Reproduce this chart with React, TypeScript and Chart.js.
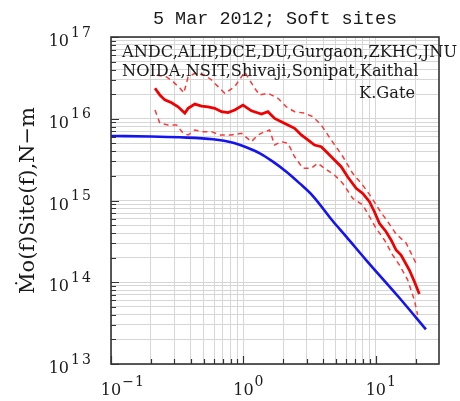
import React, { useEffect, useRef } from "react";
import { Chart, registerables } from "chart.js";

Chart.register(...registerables);

// ---- texts ----
const titleText = "5 Mar 2012; Soft sites";
const yAxisTitle = "Ṁo(f)Site(f),N−m";
const stationLines = [
  "ANDC,ALIP,DCE,DU,Gurgaon,ZKHC,JNU",
  "NOIDA,NSIT,Shivaji,Sonipat,Kaithal",
  "K.Gate",
];
const xTickExponents = [-1, 0, 1];
const yTickExponents = [13, 14, 15, 16, 17];

// ---- axis ranges ----
const xMin = 0.1;
const xMax = 30;
const yMin = 1e13;
const yMax = 1e17;

// ---- source spectrum (blue) ----
const sourceFreq = [0.1, 0.2, 0.331, 0.59, 0.835, 1.05, 1.33, 1.67, 2.11, 2.66, 3.35, 4.73, 6.0, 8.45, 15.1, 23.9];
const sourceVals = [6.15e15, 6.07e15, 5.93e15, 5.61e15, 5.09e15, 4.48e15, 3.78e15, 2.99e15, 2.25e15, 1.62e15, 1.135e15, 5.61e14, 3.59e14, 1.87e14, 6.42e13, 2.65e13];

// ---- mean site spectrum (red solid) ----
const meanFreq = [0.215, 0.234, 0.255, 0.287, 0.321, 0.361, 0.382, 0.43, 0.483, 0.541, 0.608, 0.683, 0.766, 0.86, 0.993, 1.149, 1.367, 1.532, 1.721, 1.934, 2.168, 2.436, 2.736, 3.068, 3.446, 3.871, 4.34, 4.875, 5.476, 6.141, 7.104, 7.968, 8.951, 9.759, 10.64, 11.96, 13.04, 14.22, 15.51, 17.92, 19.54, 21.31];
const meanVals = [2.36e16, 1.95e16, 1.7e16, 1.57e16, 1.4e16, 1.17e16, 1.34e16, 1.51e16, 1.43e16, 1.4e16, 1.34e16, 1.22e16, 1.19e16, 1.28e16, 1.47e16, 1.25e16, 1.14e16, 1.22e16, 1.01e16, 9.2e15, 8.39e15, 7.64e15, 6.33e15, 5.5e15, 4.77e15, 4.55e15, 3.78e15, 3.13e15, 2.59e15, 1.94e15, 1.41e15, 1.22e15, 9.67e14, 7.29e14, 5.26e14, 4.15e14, 3.29e14, 2.48e14, 2.15e14, 1.41e14, 1.02e14, 7.18e13];

// ---- upper bound (red dashed) ----
const upperFreq = [0.222, 0.263, 0.295, 0.331, 0.355, 0.382, 0.43, 0.511, 0.574, 0.644, 0.723, 0.86, 1.023, 1.217, 1.327, 1.532, 1.823, 2.109, 2.436, 2.897, 3.346, 3.871, 4.605, 5.602, 6.663, 8.066, 9.218, 10.64, 12.29, 14.22, 16.92, 20.5];
const upperVals = [3.43e16, 3.24e16, 2.82e16, 2.38e16, 2.07e16, 3.24e16, 3.6e16, 3.43e16, 2.98e16, 2.47e16, 2.05e16, 2.47e16, 3.73e16, 2.36e16, 1.95e16, 2.05e16, 1.78e16, 1.4e16, 1.22e16, 1.17e16, 1.06e16, 8.39e15, 5.5e15, 3.5e15, 2.17e15, 1.5e15, 1.11e15, 7.65e14, 5.51e14, 3.89e14, 3.02e14, 1.6e14];

// ---- lower bound (red dashed) ----
const lowerFreq = [0.215, 0.234, 0.27, 0.313, 0.351, 0.382, 0.43, 0.496, 0.574, 0.663, 0.812, 0.966, 1.149, 1.288, 1.447, 1.578, 1.721, 1.934, 2.168, 2.436, 2.813, 3.254, 3.649, 4.1, 4.875, 5.632, 6.697, 7.968, 8.951, 10.05, 11.61, 13.41, 15.06, 17.39, 19.54, 20.69];
const lowerVals = [1.28e16, 8.8e15, 8.39e15, 8.39e15, 6.64e15, 6.33e15, 7.29e15, 6.95e15, 6.95e15, 6.33e15, 6.33e15, 6.64e15, 5.24e15, 6.33e15, 6.95e15, 7.29e15, 4.77e15, 5.24e15, 5.01e15, 3.43e15, 2.48e15, 2.48e15, 2.85e15, 2.48e15, 2.05e15, 1.62e15, 1.06e15, 8.81e14, 6.34e14, 4.57e14, 3.29e14, 2.15e14, 1.63e14, 1.07e14, 6.07e13, 3.98e13];

const pts = (xs: number[], ys: number[]) => xs.map((x, i) => ({ x, y: ys[i] }));

function logTicks(min: number, max: number) {
  const out: { value: number; major: boolean }[] = [];
  const e0 = Math.floor(Math.log10(min) + 1e-9);
  const e1 = Math.ceil(Math.log10(max) - 1e-9);
  for (let e = e0; e <= e1; e++) {
    for (let m = 1; m <= 9; m++) {
      const v = e < 0 ? m / Math.pow(10, -e) : m * Math.pow(10, e);
      if (v >= min * 0.9999 && v <= max * 1.0001) out.push({ value: v, major: m === 1 });
    }
  }
  return out;
}

const expText = (n: number) => String(n).replace("-", "−");

const SERIF = '"DejaVu Serif", serif';

const decoPlugin = {
  id: "deco",
  afterDatasetsDraw(chart: any) {
    const { ctx, chartArea, scales } = chart;
    const { left, right, top, bottom } = chartArea;
    const xs = scales.x;
    const ys = scales.y;
    ctx.save();
    // inner tick marks
    ctx.strokeStyle = "#333";
    ctx.lineWidth = 1.2;
    ctx.beginPath();
    for (const t of xs.ticks) {
      const px = Math.round(xs.getPixelForValue(t.value)) + 0.5;
      const len = t.major ? 8 : 5;
      ctx.moveTo(px, bottom);
      ctx.lineTo(px, bottom - len);
    }
    for (const t of ys.ticks) {
      const py = Math.round(ys.getPixelForValue(t.value)) + 0.5;
      const len = t.major ? 8 : 5;
      ctx.moveTo(left, py);
      ctx.lineTo(left + len, py);
    }
    ctx.stroke();

    ctx.fillStyle = "#1a1a1a";
    ctx.textBaseline = "alphabetic";
    // y tick labels
    for (const e of yTickExponents) {
      const py = ys.getPixelForValue(Math.pow(10, e));
      ctx.font = `16px ${SERIF}`;
      ctx.textAlign = "right";
      ctx.letterSpacing = "0px";
      ctx.fillText("10", left - 42, py + 9);
      ctx.font = `14px ${SERIF}`;
      ctx.textAlign = "left";
      ctx.letterSpacing = "2px";
      ctx.fillText(expText(e), left - 40, py - 0.5);
      ctx.letterSpacing = "0px";
    }
    // x tick labels
    for (const e of xTickExponents) {
      const px = xs.getPixelForValue(Math.pow(10, e));
      ctx.font = `16px ${SERIF}`;
      ctx.textAlign = "center";
      ctx.fillText("10", px, bottom + 31);
      const w = ctx.measureText("10").width;
      ctx.font = `14px ${SERIF}`;
      ctx.textAlign = "left";
      ctx.letterSpacing = "1px";
      ctx.fillText(expText(e), px + w / 2 + 1, bottom + 22);
      ctx.letterSpacing = "0px";
    }
    // station list
    ctx.font = `16.2px ${SERIF}`;
    ctx.textAlign = "left";
    ctx.fillText(stationLines[0], left + 11, top + 20);
    ctx.fillText(stationLines[1], left + 11, top + 39);
    ctx.textAlign = "right";
    ctx.fillText(stationLines[2], left + 304, top + 61);

    // frame
    ctx.strokeStyle = "#333";
    ctx.lineWidth = 1.6;
    ctx.strokeRect(left, top, right - left, bottom - top);
    ctx.restore();
  },
};

export default function App() {
  const ref = useRef<HTMLCanvasElement | null>(null);
  useEffect(() => {
    document.body.style.margin = "0";
    const canvas = ref.current;
    if (!canvas) return;
    const gridColor = "#d6d6d6";
    const chart = new Chart(canvas, {
      type: "line",
      data: {
        datasets: [
          {
            data: pts(sourceFreq, sourceVals),
            borderColor: "rgb(20,20,240)",
            borderWidth: 2.6,
            pointRadius: 0,
            cubicInterpolationMode: "monotone",
            fill: false,
          },
          {
            data: pts(upperFreq, upperVals),
            borderColor: "rgb(255,55,55)",
            borderWidth: 1.5,
            borderDash: [5, 4],
            pointRadius: 0,
            tension: 0,
            fill: false,
          },
          {
            data: pts(lowerFreq, lowerVals),
            borderColor: "rgb(255,55,55)",
            borderWidth: 1.5,
            borderDash: [5, 4],
            pointRadius: 0,
            tension: 0,
            fill: false,
          },
          {
            data: pts(meanFreq, meanVals),
            borderColor: "rgb(240,0,0)",
            borderWidth: 2.8,
            pointRadius: 0,
            tension: 0,
            fill: false,
          },
        ],
      },
      options: {
        animation: false,
        responsive: false,
        events: [],
        layout: { padding: { left: 0, right: 21, top: 0, bottom: 0 } },
        plugins: {
          legend: { display: false },
          tooltip: { enabled: false },
          title: {
            display: true,
            fullSize: false,
            text: titleText,
            color: "#1a1a1a",
            font: { family: '"Liberation Mono", monospace', size: 18.5, weight: "normal" },
            padding: { top: 8, bottom: 6.8 },
          },
        },
        scales: {
          x: {
            type: "logarithmic",
            min: xMin,
            max: xMax,
            afterBuildTicks: (s: any) => {
              s.ticks = logTicks(xMin, xMax).filter((t) => t.value < xMax * 0.999);
            },
            afterFit: (s: any) => {
              s.height = 37;
            },
            ticks: { display: false },
            grid: { color: gridColor, lineWidth: 1, drawTicks: false },
            border: { display: false },
          },
          y: {
            type: "logarithmic",
            min: yMin,
            max: yMax,
            afterBuildTicks: (s: any) => {
              s.ticks = logTicks(yMin, yMax);
            },
            afterFit: (s: any) => {
              s.width = 111;
            },
            ticks: { display: false },
            grid: { color: gridColor, lineWidth: 1, drawTicks: false },
            border: { display: false },
            title: {
              display: true,
              text: yAxisTitle,
              color: "#1a1a1a",
              font: { family: SERIF, size: 21, weight: "normal" },
              padding: { top: 16, bottom: 0 },
            },
          },
        },
      } as any,
      plugins: [decoPlugin],
    });
    return () => chart.destroy();
  }, []);
  return (
    <div style={{ width: 460, height: 401, background: "#fff" }}>
      <canvas ref={ref} width={460} height={401} style={{ display: "block" }} />
    </div>
  );
}
